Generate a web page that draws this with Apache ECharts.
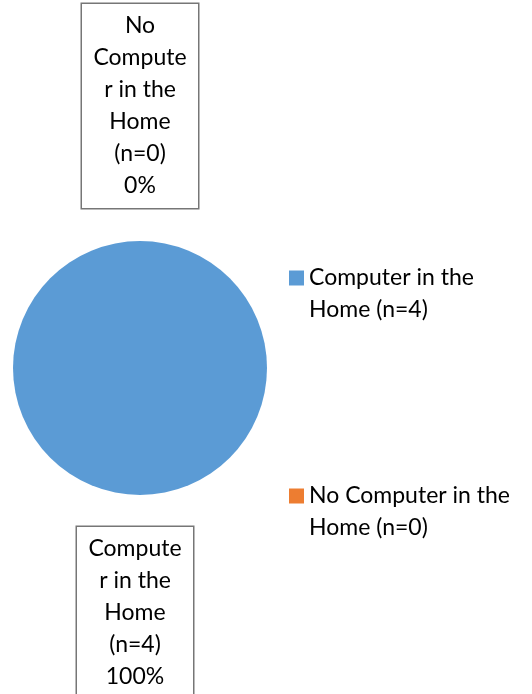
<!DOCTYPE html>
<html>
<head>
<meta charset="utf-8">
<script src="https://cdn.jsdelivr.net/npm/echarts@6/dist/echarts.min.js"></script>
<style>
html,body{margin:0;padding:0;background:#fff;}
#chart{width:532px;height:694px;}
</style>
</head>
<body>
<div id="chart"></div>
<script>
// ---- data ----
var categories = ['Computer in the Home (n=4)', 'No Computer in the Home (n=0)'];
var values = [4, 0];
var colors = ['#5B9BD5', '#ED7D31'];

var FONT_FAMILY = 'Lato, "Open Sans", sans-serif';
var FONT_SIZE = 23;

var measureCtx = document.createElement('canvas').getContext('2d');
function measure(t) {
  measureCtx.font = FONT_SIZE + 'px ' + FONT_FAMILY;
  return measureCtx.measureText(t).width;
}
// word wrap like Office: wrap on spaces, break words that are too long
function wrap(text, maxW) {
  var words = text.split(' ');
  var lines = [];
  var line = '';
  words.forEach(function (w) {
    var cand = line ? line + ' ' + w : w;
    if (measure(cand) <= maxW) { line = cand; return; }
    if (line) lines.push(line);
    line = '';
    while (measure(w) > maxW) {
      var k = w.length;
      while (k > 1 && measure(w.slice(0, k)) > maxW) k--;
      lines.push(w.slice(0, k));
      w = w.slice(k);
    }
    line = w;
  });
  if (line) lines.push(line);
  return lines.join('\n');
}

var chart = echarts.init(document.getElementById('chart'), null, {renderer: 'canvas'});

var labelLineLengths = [118, 135];
var labelDistances = [-5, 0];

var data = categories.map(function (name, i) {
  return {
    name: name,
    value: values[i],
    itemStyle: {color: colors[i]},
    labelLine: {show: false, length: labelLineLengths[i], length2: 0},
    label: {distanceToLabelLine: labelDistances[i]}
  };
});

chart.setOption({
  animation: false,
  backgroundColor: '#ffffff',
  legend: {
    orient: 'vertical',
    left: 289,
    top: 230,
    padding: 0,
    itemGap: 122,
    itemWidth: 15,
    itemHeight: 15,
    icon: 'rect',
    selectedMode: false,
    data: categories,
    // leading blank line keeps the marker level with the first text line
    formatter: function (name) { return ' \n' + wrap(name, 215); },
    textStyle: {
      fontFamily: FONT_FAMILY,
      fontSize: FONT_SIZE,
      lineHeight: 32,
      color: '#000000'
    }
  },
  series: [{
    type: 'pie',
    center: [140, 368],
    radius: 127,
    startAngle: 90,
    clockwise: true,
    avoidLabelOverlap: false,
    percentPrecision: 0,
    silent: true,
    itemStyle: {borderWidth: 0},
    label: {
      show: true,
      position: 'outside',
      fontFamily: FONT_FAMILY,
      fontSize: FONT_SIZE,
      lineHeight: 32,
      color: '#000000',
      width: 104,
      overflow: 'none',
      align: 'center',
      padding: [6, 6],
      borderColor: '#767676',
      borderWidth: 1.5,
      backgroundColor: '#ffffff',
      formatter: function (p) {
        return wrap(p.name, 100) + '\n' + p.percent + '%';
      }
    },
    labelLayout: function () {
      return {align: 'center', verticalAlign: 'middle'};
    },
    data: data
  }]
});
</script>
</body>
</html>
